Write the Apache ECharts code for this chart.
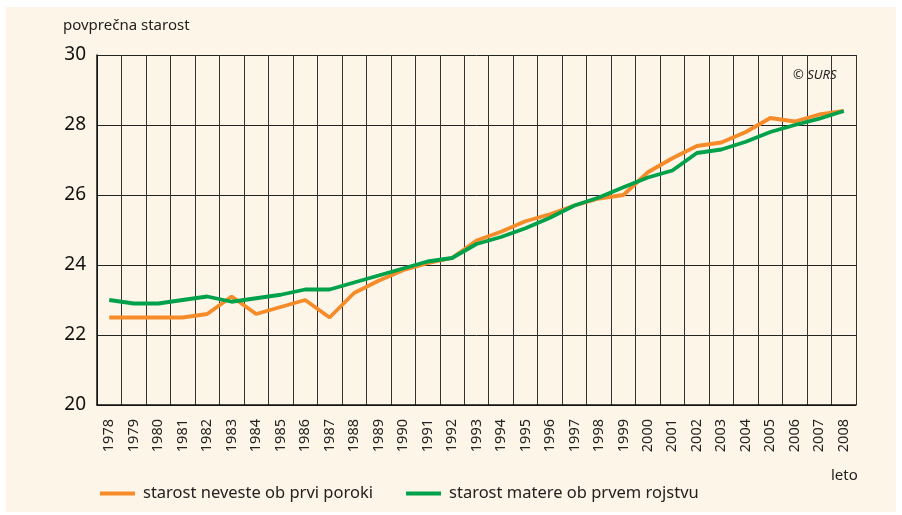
<!DOCTYPE html>
<html>
<head>
<meta charset="utf-8">
<script src="https://cdn.jsdelivr.net/npm/echarts@6/dist/echarts.min.js"></script>
<style>
  html, body { margin: 0; padding: 0; background: #ffffff; }
  #chart { width: 902px; height: 515px; }
</style>
</head>
<body>
<div id="chart"></div>
<script>
// Years on the horizontal axis
const years = ['1978','1979','1980','1981','1982','1983','1984','1985','1986','1987',
  '1988','1989','1990','1991','1992','1993','1994','1995','1996','1997','1998','1999',
  '2000','2001','2002','2003','2004','2005','2006','2007','2008'];

// Average age of the bride at first marriage
const brideAge = [22.5, 22.5, 22.5, 22.5, 22.6, 23.1, 22.6, 22.8, 23.0, 22.5,
  23.2, 23.55, 23.85, 24.05, 24.2, 24.7, 24.95, 25.25, 25.45, 25.7, 25.9, 26.0,
  26.65, 27.05, 27.4, 27.5, 27.8, 28.2, 28.1, 28.3, 28.4];

// Average age of the mother at first birth
const motherAge = [23.0, 22.9, 22.9, 23.0, 23.1, 22.95, 23.05, 23.15, 23.3, 23.3,
  23.5, 23.7, 23.9, 24.1, 24.2, 24.6, 24.8, 25.05, 25.35, 25.7, 25.93, 26.22,
  26.5, 26.7, 27.2, 27.3, 27.52, 27.8, 28.0, 28.18, 28.4];

const seriesNames = ['starost neveste ob prvi poroki', 'starost matere ob prvem rojstvu'];
const yMin = 20, yMax = 30, yStep = 2;

const ORANGE = '#F68B2A';
const GREEN = '#00A14B';
const FONT = 'Noto Sans';

const chart = echarts.init(document.getElementById('chart'), null, { renderer: 'canvas' });

chart.setOption({
  animation: false,
  textStyle: { fontFamily: FONT },
  graphic: [
    { type: 'rect', z: -10, shape: { x: 6, y: 7, width: 890, height: 505 },
      style: { fill: '#FDF5E7' } },
    { type: 'text', left: 63, top: 18,
      style: { text: 'povprečna starost', fontSize: 15, fill: '#222', fontFamily: FONT } },
    { type: 'text', left: 793, top: 69,
      style: { text: '© SURS', fontSize: 13, fontStyle: 'italic', fill: '#222', fontFamily: FONT } },
    { type: 'text', left: 831, top: 468,
      style: { text: 'leto', fontSize: 15, fill: '#222', fontFamily: FONT } }
  ],
  legend: {
    left: 95, top: 480,
    itemWidth: 35, itemHeight: 4, itemGap: 33,
    icon: 'rect',
    textStyle: { fontSize: 16.5, color: '#222', fontFamily: FONT, padding: [0, 0, 0, 3] },
    data: seriesNames
  },
  grid: { left: 97, right: 46, top: 55, bottom: 110, containLabel: false },
  xAxis: {
    type: 'category',
    data: years,
    boundaryGap: true,
    axisLine: { show: true, lineStyle: { color: '#111', width: 1.5 } },
    axisTick: { show: false },
    axisLabel: { rotate: 90, fontSize: 14.5, color: '#222', margin: 14, interval: 0 },
    splitLine: { show: true, interval: 0, lineStyle: { color: '#333', width: 1 } }
  },
  yAxis: {
    type: 'value',
    min: yMin, max: yMax, interval: yStep,
    axisLine: { show: true, lineStyle: { color: '#111', width: 1.5 } },
    axisTick: { show: false },
    axisLabel: { fontSize: 19, color: '#111', margin: 11 },
    splitLine: { show: true, lineStyle: { color: '#222', width: 1 } }
  },
  series: [
    { name: seriesNames[0], type: 'line', data: brideAge, symbol: 'none',
      lineStyle: { color: ORANGE, width: 3.8 }, itemStyle: { color: ORANGE }, z: 3 },
    { name: seriesNames[1], type: 'line', data: motherAge, symbol: 'none',
      lineStyle: { color: GREEN, width: 3.8 }, itemStyle: { color: GREEN }, z: 4 }
  ]
});
</script>
</body>
</html>
